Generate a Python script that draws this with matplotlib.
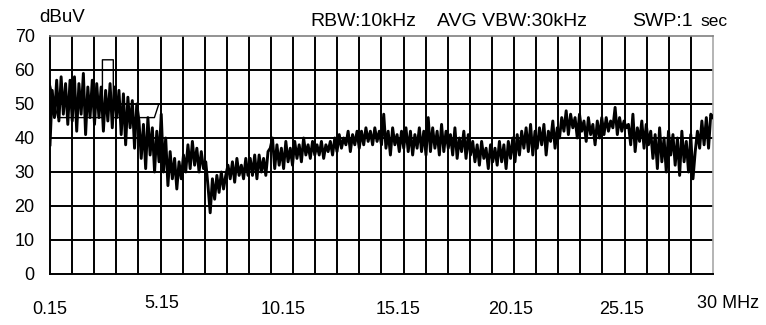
import numpy as np
import matplotlib.pyplot as plt

plt.rcParams['font.family'] = ['Liberation Sans', 'DejaVu Sans']

###===== DATA =====###

# Average detector scan, dBuV, one row per grid division (~1 MHz)
level = [
    38, 54, 46, 57, 45, 58, 47, 56, 44, 57,     # 0.15 - 1.15
    45, 58, 42, 56, 47, 59, 41, 55, 46, 57,     # 1.15 - 2.15
    44, 56, 46, 55, 42, 54, 45, 56, 43, 55,     # 2.15 - 3.15
    46, 54, 41, 53, 38, 52, 43, 51, 37, 50,     # 3.15 - 4.15
    45, 34, 44, 31, 46, 35, 43, 30, 42, 33,     # 4.15 - 5.15
    47, 30, 40, 26, 36, 28, 34, 25, 33, 28,     # 5.15 - 6.15
    35, 30, 38, 31, 39, 32, 37, 30, 36, 31,     # 6.15 - 7.15
    33, 26, 18, 28, 22, 29, 24, 30, 25, 29,     # 7.15 - 8.15
    32, 28, 33, 27, 34, 29, 32, 28, 34, 29,     # 8.15 - 9.15
    34, 29, 35, 28, 35, 30, 34, 29, 36, 37,     # 9.15 - 10.15
    40, 31, 38, 32, 37, 31, 39, 33, 37, 32,     # 10.15 - 11.15
    39, 34, 38, 33, 40, 35, 38, 34, 39, 35,     # 11.15 - 12.15
    38, 35, 39, 34, 38, 36, 39, 35, 40, 36,     # 12.15 - 13.15
    41, 37, 40, 38, 42, 36, 41, 38, 42, 37,     # 13.15 - 14.15
    42, 38, 43, 39, 42, 38, 43, 39, 42, 38,     # 14.15 - 15.15
    47, 37, 42, 35, 43, 38, 41, 36, 42, 37,     # 15.15 - 16.15
    43, 36, 42, 35, 41, 37, 43, 36, 42, 35,     # 16.15 - 17.15
    46, 36, 43, 37, 42, 35, 44, 36, 42, 37,     # 17.15 - 18.15
    41, 35, 43, 34, 40, 36, 42, 34, 41, 35,     # 18.15 - 19.15
    39, 33, 38, 32, 39, 34, 37, 31, 38, 33,     # 19.15 - 20.15
    37, 32, 39, 33, 38, 31, 39, 34, 40, 33,     # 20.15 - 21.15
    41, 35, 42, 37, 43, 36, 44, 35, 42, 37,     # 21.15 - 22.15
    43, 38, 44, 35, 42, 39, 45, 37, 43, 40,     # 22.15 - 23.15
    46, 42, 48, 41, 47, 43, 46, 40, 47, 42,     # 23.15 - 24.15
    45, 39, 46, 41, 44, 38, 45, 40, 46, 41,     # 24.15 - 25.15
    46, 42, 45, 43, 49, 41, 46, 42, 45, 43,     # 25.15 - 26.15
    44, 38, 47, 36, 43, 39, 45, 37, 44, 38,     # 26.15 - 27.15
    42, 34, 41, 31, 43, 33, 40, 30, 42, 35,     # 27.15 - 28.15
    41, 32, 40, 29, 42, 33, 39, 30, 41, 28,     # 28.15 - 29.15
    36, 42, 37, 45, 38, 46, 37, 47, 46,         # 29.15 - 30
]
freq = np.linspace(0.15, 30, len(level))

# Average limit line (CISPR 15)
limit_freq = [0.15, 0.5, 2.51, 2.51, 3.0, 3.0, 4.85, 5.05, 30]
limit_level = [56, 46, 46, 63, 63, 46, 46, 50, 50]

y_ticks = [0, 10, 20, 30, 40, 50, 60, 70]
x_labels = ['0.15', '5.15', '10.15', '15.15', '20.15', '25.15']
x_label_pos = [0.15, 5.2, 10.65, 15.8, 20.9, 25.9]


###===== PLOT =====###

fig = plt.figure(figsize=(7.66, 3.25), dpi=100)
ax = fig.add_axes([50 / 766, 51 / 325, 663 / 766, 238 / 325])

xmin, xmax = 0.15, 30
ax.set_xlim(xmin, xmax)
ax.set_ylim(0, 70)

# Grid: 30 divisions across, 7 up
x_grid = np.linspace(xmin, xmax, 31)
ax.vlines(x_grid[1:-1], 0, 70, color='black', lw=1.4, zorder=1)
ax.hlines(y_ticks[1:-1], xmin, xmax, color='black', lw=1.4, zorder=1)

ax.plot(limit_freq, limit_level, color='black', lw=1.0, zorder=2)
ax.plot(freq, level, color='black', lw=2.1, zorder=3)

for side in ['left', 'bottom']:
    ax.spines[side].set_color('black')
    ax.spines[side].set_linewidth(1.4)
ax.spines['top'].set_color('#808080')
ax.spines['right'].set_color('#a8a8a8')
ax.spines['top'].set_linewidth(1.2)
ax.spines['right'].set_linewidth(1.2)

ax.set_yticks(y_ticks)
ax.set_yticklabels([str(v) for v in y_ticks], fontsize=13)
ax.tick_params(axis='y', length=0, pad=11)
ax.set_xticks([])

# Frequency labels under the axis
for lbl, pos in zip(x_labels, x_label_pos):
    dy = -0.125 if lbl == '5.15' else -0.15
    ax.text(pos, dy, lbl, transform=ax.get_xaxis_transform(),
            ha='center', va='center', fontsize=13)
ax.text(29.3, -0.125, '30 MHz', transform=ax.get_xaxis_transform(),
        ha='left', va='center', fontsize=13)

fig.text(39 / 766, 1 - 18 / 325, 'dBuV', ha='left', va='center', fontsize=13.5)
fig.text(310 / 766, 1 - 22 / 325, 'RBW:10kHz', ha='left', va='center', fontsize=14)
fig.text(437 / 766, 1 - 22 / 325, 'AVG VBW:30kHz', ha='left', va='center', fontsize=14)
fig.text(632 / 766, 1 - 22 / 325, 'SWP:1', ha='left', va='center', fontsize=14)
fig.text(700 / 766, 1 - 21 / 325, 'sec', ha='left', va='center', fontsize=12.5)

fig.savefig('out.png', dpi=100)
